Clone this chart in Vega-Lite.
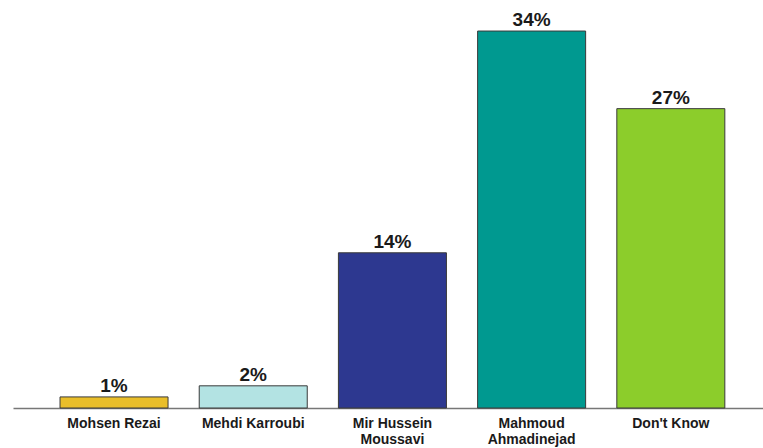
{
  "$schema": "https://vega.github.io/schema/vega-lite/v6.json",
  "width": 750,
  "height": 408,
  "autosize": {"type": "none"},
  "padding": {"left": 13, "top": 0, "right": 0, "bottom": 40},
  "background": "white",
  "config": {"view": {"stroke": null}, "font": "Liberation Sans"},
  "data": {
    "values": [
      {"candidate": "Mohsen Rezai", "pct": 1, "color": "#E9BE2A"},
      {"candidate": "Mehdi Karroubi", "pct": 2, "color": "#B3E3E3"},
      {"candidate": "Mir Hussein Moussavi", "pct": 14, "color": "#2D3890"},
      {"candidate": "Mahmoud Ahmadinejad", "pct": 34, "color": "#009990"},
      {"candidate": "Don't Know", "pct": 27, "color": "#8CCD2B"}
    ]
  },
  "transform": [{"calculate": "datum.pct + '%'", "as": "label"}],
  "encoding": {
    "x": {
      "field": "candidate",
      "type": "nominal",
      "sort": null,
      "scale": {"paddingInner": 0.224, "paddingOuter": 0.306, "align": 0.552},
      "axis": {
        "title": null,
        "labelAngle": 0,
        "labelFont": "Liberation Sans",
        "labelFontSize": 14,
        "labelFontWeight": "bold",
        "labelColor": "#1a1a1a",
        "labelPadding": 8,
        "labelLineHeight": 16,
        "ticks": false,
        "domainColor": "#777777",
        "domainWidth": 1.5,
        "labelExpr": "datum.label == 'Mir Hussein Moussavi' ? ['Mir Hussein', 'Moussavi'] : datum.label == 'Mahmoud Ahmadinejad' ? ['Mahmoud', 'Ahmadinejad'] : datum.label"
      }
    },
    "y": {
      "field": "pct",
      "type": "quantitative",
      "scale": {"domain": [0, 36.8], "nice": false, "zero": true},
      "axis": null
    }
  },
  "layer": [
    {
      "mark": {"type": "bar", "stroke": "#3a3a3a", "strokeWidth": 1},
      "encoding": {
        "fill": {"field": "color", "type": "nominal", "scale": null}
      }
    },
    {
      "mark": {
        "type": "text",
        "baseline": "alphabetic",
        "dy": -5,
        "font": "Liberation Sans",
        "fontSize": 19,
        "fontWeight": "bold",
        "fill": "#1a1a1a"
      },
      "encoding": {
        "text": {"field": "label", "type": "nominal"}
      }
    }
  ]
}
